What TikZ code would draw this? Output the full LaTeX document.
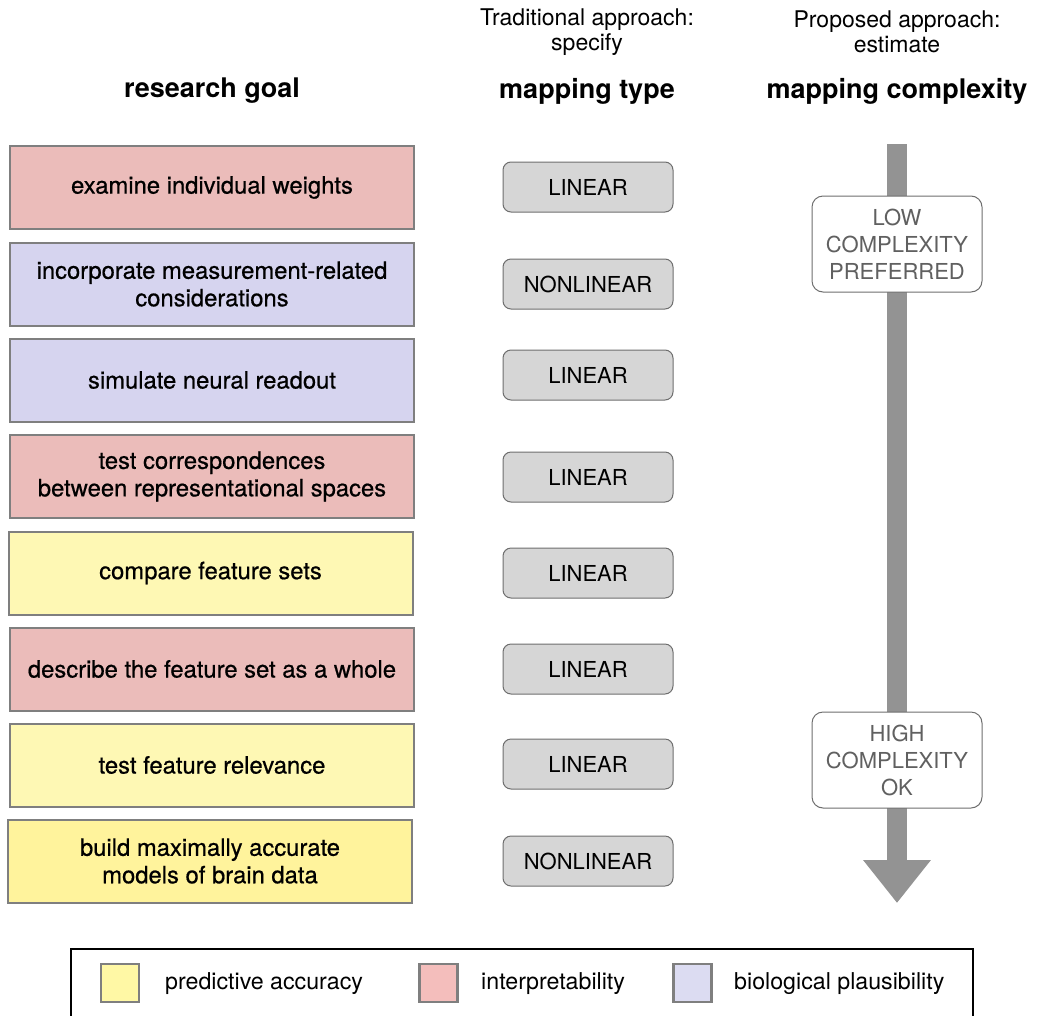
\documentclass[tikz,border=0pt]{standalone}
\usepackage{fontspec}
\setmainfont{TeX Gyre Heros}
\newfontfamily\medfont{TeX Gyre Heros}[FakeBold=0.6]
\usetikzlibrary{arrows.meta}
\definecolor{redfill}{HTML}{EBBCBA}
\definecolor{purpfill}{HTML}{D6D4EF}
\definecolor{yelfill}{HTML}{FEF8B4}
\definecolor{yelfillb}{HTML}{FFF39C}
\definecolor{bordergray}{HTML}{7F7F7F}
\definecolor{mapfill}{HTML}{D6D6D6}
\definecolor{mapborder}{HTML}{6E6E6E}
\definecolor{arrowgray}{HTML}{939393}
\definecolor{labgray}{HTML}{606060}
\definecolor{legyel}{HTML}{FFF8A5}
\definecolor{legred}{HTML}{F4BEBC}
\definecolor{legpurp}{HTML}{DCDCF2}
\tikzset{
  goalbox/.style={draw=bordergray, line width=2pt, minimum width=404pt, minimum height=83pt, align=center, inner sep=0pt, font=\medfont\fontsize{23.8}{27.5}\selectfont},
  mapbox/.style={draw=mapborder, fill=mapfill, line width=1pt, rounded corners=8pt, minimum width=170pt, minimum height=50pt, inner sep=0pt, font=\fontsize{22}{24}\selectfont},
  complbox/.style={draw=mapborder, fill=white, line width=1pt, rounded corners=11pt, minimum width=170pt, minimum height=96pt, inner sep=0pt, align=center, text=labgray, font=\fontsize{22}{27}\selectfont},
  header/.style={font=\bfseries\fontsize{27}{30}\selectfont},
  subheader/.style={align=center, font=\fontsize{23}{25.5}\selectfont},
  legsq/.style={draw=bordergray, line width=2.5pt, minimum width=38pt, minimum height=38pt, inner sep=0pt},
  legtext/.style={anchor=west, inner sep=0pt, font=\fontsize{23.2}{26}\selectfont}
}
\begin{document}
\begin{tikzpicture}[x=1pt,y=-1pt]
\useasboundingbox (0,0) rectangle (1039,1015);

% headers
\node[header] (hgoal) at (212,91) {research goal};
\node[header] (hmap) at (587,91) {mapping type};
\node[header] (hcomp) at (897,91) {mapping complexity};
\node[subheader] (trad) at (587,32) {Traditional approach:\\specify};
\node[subheader] (prop) at (897,32) {Proposed approach:\\estimate};

% research goals
\node[goalbox, fill=redfill] (g1) at (212,187.5) {examine individual weights};
\node[goalbox, fill=purpfill] (g2) at (212,284) {incorporate measurement-related\\considerations};
\node[goalbox, fill=purpfill] (g3) at (212,380) {simulate neural readout};
\node[goalbox, fill=redfill] (g4) at (212,476.5) {test correspondences\\between representational spaces};
\node[goalbox, fill=yelfill] (g5) at (210.5,573) {compare feature sets};
\node[goalbox, fill=redfill] (g6) at (212,669) {describe the feature set as a whole};
\node[goalbox, fill=yelfill] (g7) at (212,765) {test feature relevance};
\node[goalbox, fill=yelfillb] (g8) at (210,861) {build maximally accurate\\models of brain data};

% mapping types
\node[mapbox] (m1) at (588,187) {LINEAR};
\node[mapbox] (m2) at (588,284) {NONLINEAR};
\node[mapbox] (m3) at (588,375) {LINEAR};
\node[mapbox] (m4) at (588,477) {LINEAR};
\node[mapbox] (m5) at (588,573) {LINEAR};
\node[mapbox] (m6) at (588,669) {LINEAR};
\node[mapbox] (m7) at (588,764) {LINEAR};
\node[mapbox] (m8) at (588,861) {NONLINEAR};

% complexity arrow
\coordinate (atop) at (897,144);
\coordinate (abot) at (897,903);
\draw[arrowgray, line width=20pt, -{Triangle[width=65pt,length=43pt]}] (atop) -- (abot);
\node[complbox] (low) at (897,244) {LOW\\COMPLEXITY\\PREFERRED};
\node[complbox] (high) at (897,760) {HIGH\\COMPLEXITY\\OK};

% legend
\coordinate (lbl) at (71,1020);
\coordinate (ltl) at (71,949);
\coordinate (ltr) at (973,949);
\coordinate (lbr) at (973,1020);
\draw[black, line width=1.5pt] (lbl) -- (ltl) -- (ltr) -- (lbr);
\node[legsq, fill=legyel] (sq1) at (120,983) {};
\node[legtext] (t1) at (165,984) {predictive accuracy};
\node[legsq, fill=legred] (sq2) at (438.5,983) {};
\node[legtext] (t2) at (481,984) {interpretability};
\node[legsq, fill=legpurp] (sq3) at (692.5,983) {};
\node[legtext] (t3) at (734,984) {biological plausibility};
\end{tikzpicture}
\end{document}
